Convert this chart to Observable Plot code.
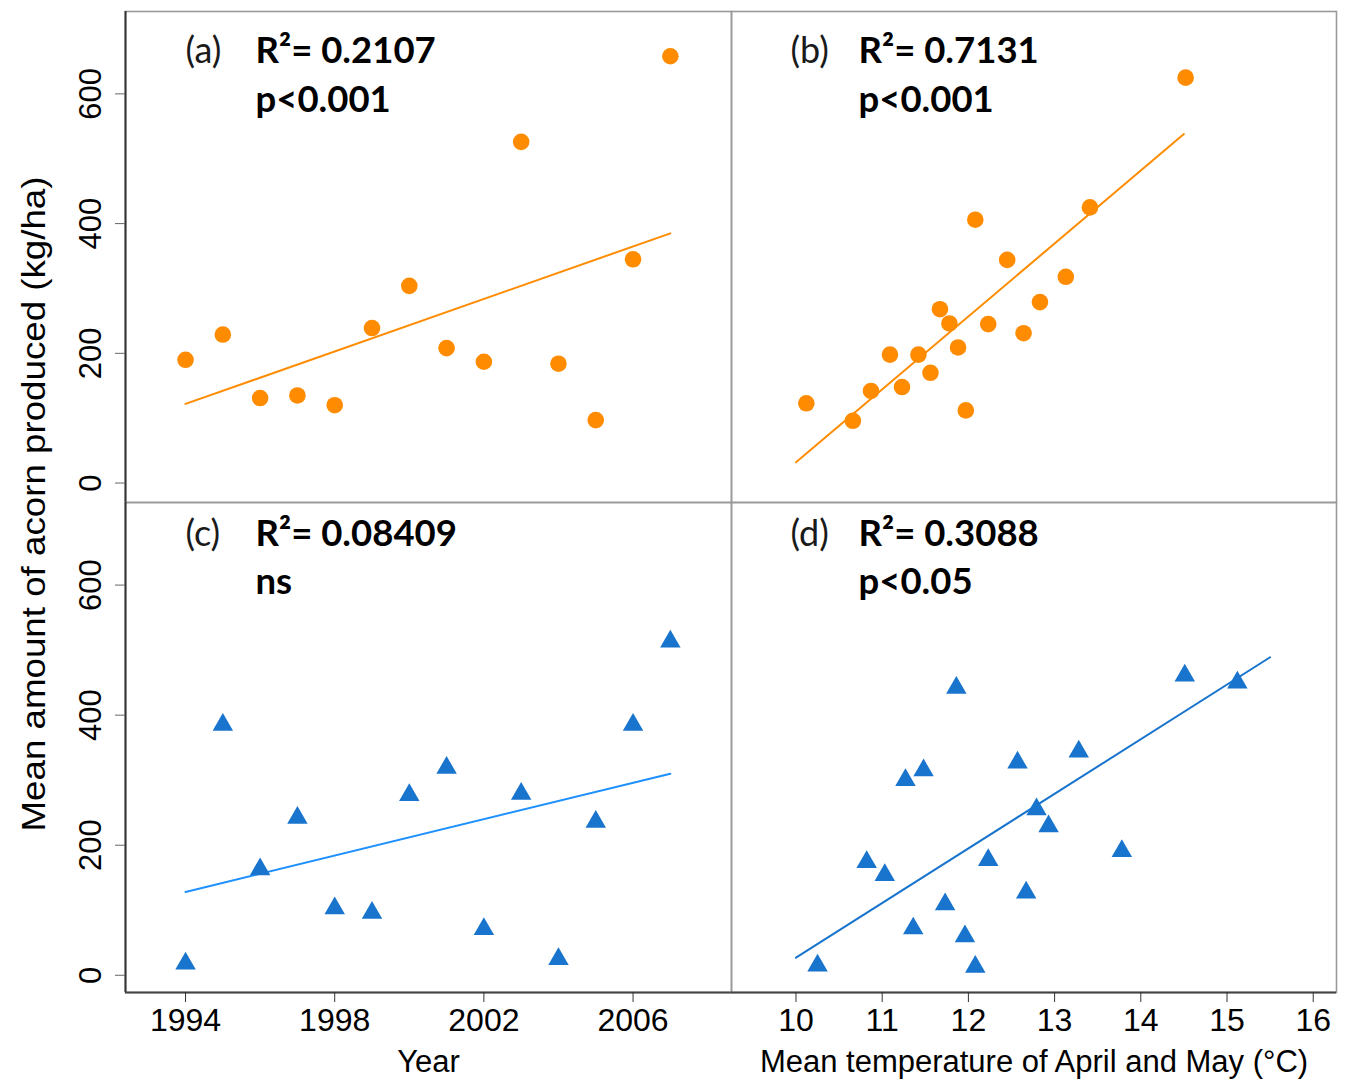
<!DOCTYPE html>
<html><head><meta charset="utf-8">
<script src="https://cdn.jsdelivr.net/npm/d3@7"></script>
<script src="https://cdn.jsdelivr.net/npm/@observablehq/plot@0.6"></script>
<style>
body{margin:0;background:#fff;}
#chart{position:relative;width:1345px;height:1081px;background:#fff;overflow:hidden;}
#chart svg{position:absolute;overflow:visible;background:none;}
</style></head><body><div id="chart"></div>
<script>
// ---- data ----
const years = [1994,1995,1996,1997,1998,1999,2000,2001,2002,2003,2004,2005,2006,2007];
const acornA = [190,229,131,135,120,239,304,208,187,526,184,97,345,658];
const acornC = [18,385,163,242,103,96,277,319,71,279,25,236,385,513];
const tempB = [10.12,10.66,10.87,11.09,11.23,11.42,11.56,11.67,11.78,11.88,11.97,12.08,12.23,12.45,12.64,12.83,13.13,13.41,14.52];
const acornB = [123,96,142,198,148,198,170,268,246,209,112,406,245,344,231,279,318,425,625];
const tempD = [10.25,10.82,11.03,11.27,11.48,11.36,11.73,11.86,11.96,12.08,12.23,12.57,12.67,12.79,12.93,13.28,13.78,14.51,15.12];
const acornD = [15,174,154,300,315,72,109,442,60,13,177,327,127,255,229,344,191,461,450];
// fitted regression lines (end points)
const fitAx = [1994, 2007], fitAy = [122, 385];
const fitCx = [1994, 2007], fitCy = [128, 310];
const fitBx = [10.0, 14.5], fitBy = [32, 538];
const fitDx = [10.0, 15.5], fitDy = [27, 489];
// labels
const tags = ["(a)", "(b)", "(c)", "(d)"];
const r2Text = ["R\u00b2= 0.2107", "R\u00b2= 0.7131", "R\u00b2= 0.08409", "R\u00b2= 0.3088"];
const sigText = ["p<0.001", "p<0.001", "ns", "p<0.05"];
const yTicks = [0, 200, 400, 600];
const yearTicks = [1994, 1998, 2002, 2006];
const tempTicks = [10, 11, 12, 13, 14, 15, 16];
const yearDomain = [1992.39, 2008.64];
const tempDomain = [9.252, 16.27];
const yDomainTop = [-30, 727];
const yDomainBottom = [-26.5, 727];
const yLabel = "Mean amount of acorn produced (kg/ha)";
const xLabelYear = "Year";
const xLabelTemp = "Mean temperature of April and May (\u00b0C)";

const orange = "#FF8C00";
const blue = "#1874CD";

const chart = document.getElementById("chart");
const zip = (xs, ys) => xs.map((x, i) => ({x, y: ys[i]}));

function panel(o) {
  const marks = [
    Plot.frame({stroke: "#9a9a9a", strokeWidth: 1.6}),
    Plot.line(zip(o.fitX, o.fitY), {x: "x", y: "y", stroke: o.lineColor, strokeWidth: 2}),
    Plot.dot(zip(o.xs, o.ys), {x: "x", y: "y", symbol: o.symbol, r: o.r, fill: o.color, stroke: "none"}),
    Plot.text([o.tag], {text: d => d, frameAnchor: "top-left", dx: o.tagDx, dy: o.base1, lineAnchor: "bottom", textAnchor: "start", fontFamily: "Lato, 'Open Sans', sans-serif", fontSize: 36, fill: "#1a1a1a"}),
    Plot.text([o.r2], {text: d => d, frameAnchor: "top-left", dx: o.statDx, dy: o.base1, lineAnchor: "bottom", textAnchor: "start", fontFamily: "Lato, 'Open Sans', sans-serif", fontWeight: "bold", fontSize: 36.5, fill: "#000"}),
    Plot.text([o.sig], {text: d => d, frameAnchor: "top-left", dx: o.statDx, dy: o.base2, lineAnchor: "bottom", textAnchor: "start", fontFamily: "Lato, 'Open Sans', sans-serif", fontWeight: "bold", fontSize: 36.5, fill: "#000"})
  ];
  if (o.showY) {
    marks.push(Plot.ruleX([o.xDomain[0]], {stroke: "#333", strokeWidth: 2}));
    marks.push(Plot.axisY({ticks: yTicks, tickSize: 10, tickPadding: 15, tickRotate: -90, stroke: "#666", fill: "#000", label: null}));
  }
  if (o.showX) {
    marks.push(Plot.ruleY([o.yDomain[0]], {stroke: "#444", strokeWidth: 2}));
    marks.push(Plot.axisX({ticks: o.xTicks, tickFormat: d => String(d), tickSize: 10, tickPadding: 6, stroke: "#333", fill: "#000", fontSize: 32, label: null}));
    marks.push(Plot.text([o.xLabel], {text: d => d, frameAnchor: "bottom", dy: 79, lineAnchor: "bottom", textAnchor: "middle", fontSize: 31, fill: "#000"}));
  }
  const svg = Plot.plot({
    width: o.width, height: o.height,
    marginLeft: o.ml, marginRight: o.mr, marginTop: o.mt, marginBottom: o.mb,
    x: {domain: o.xDomain, axis: null},
    y: {domain: o.yDomain, axis: null},
    style: {fontFamily: "'Liberation Sans', Arial, sans-serif", fontSize: "31px", background: "none", overflow: "visible"},
    marks
  });
  svg.style.left = o.left + "px";
  svg.style.top = o.top + "px";
  chart.appendChild(svg);
}

panel({xs: years, ys: acornA, fitX: fitAx, fitY: fitAy, symbol: "circle", r: 8.3, color: orange, lineColor: orange,
  tag: tags[0], r2: r2Text[0], sig: sigText[0], tagDx: 60, statDx: 130, base1: 51, base2: 100,
  xDomain: yearDomain, yDomain: yDomainTop, showY: true, showX: false,
  left: 0, top: 0, width: 731, height: 502, ml: 125, mr: 0, mt: 11, mb: 0});
panel({xs: tempB, ys: acornB, fitX: fitBx, fitY: fitBy, symbol: "circle", r: 8.3, color: orange, lineColor: orange,
  tag: tags[1], r2: r2Text[1], sig: sigText[1], tagDx: 59, statDx: 127, base1: 51, base2: 100,
  xDomain: tempDomain, yDomain: yDomainTop, showY: false, showX: false,
  left: 731, top: 0, width: 614, height: 502, ml: 0, mr: 9, mt: 11, mb: 0});
panel({xs: years, ys: acornC, fitX: fitCx, fitY: fitCy, symbol: "triangle", r: 7.6, color: blue, lineColor: "#1E90FF",
  tag: tags[2], r2: r2Text[2], sig: sigText[2], tagDx: 60, statDx: 130, base1: 43, base2: 91,
  xDomain: yearDomain, yDomain: yDomainBottom, showY: true, showX: true, xTicks: yearTicks, xLabel: xLabelYear,
  left: 0, top: 502, width: 731, height: 579, ml: 125, mr: 0, mt: 0, mb: 89});
panel({xs: tempD, ys: acornD, fitX: fitDx, fitY: fitDy, symbol: "triangle", r: 7.6, color: blue, lineColor: blue,
  tag: tags[3], r2: r2Text[3], sig: sigText[3], tagDx: 59, statDx: 127, base1: 43, base2: 91,
  xDomain: tempDomain, yDomain: yDomainBottom, showY: false, showX: true, xTicks: tempTicks, xLabel: xLabelTemp,
  left: 731, top: 502, width: 614, height: 579, ml: 0, mr: 9, mt: 0, mb: 89});

// shared y-axis title
const ysvg = d3.create("svg").attr("width", 70).attr("height", 1081).style("left", "0px").style("top", "0px");
ysvg.append("text")
  .attr("transform", "translate(45,504) rotate(-90) scale(1.08,1)")
  .attr("text-anchor", "middle")
  .attr("font-family", "'Liberation Sans', Arial, sans-serif")
  .attr("font-size", 34)
  .attr("fill", "#000")
  .text(yLabel);
chart.appendChild(ysvg.node());
</script></body></html>
